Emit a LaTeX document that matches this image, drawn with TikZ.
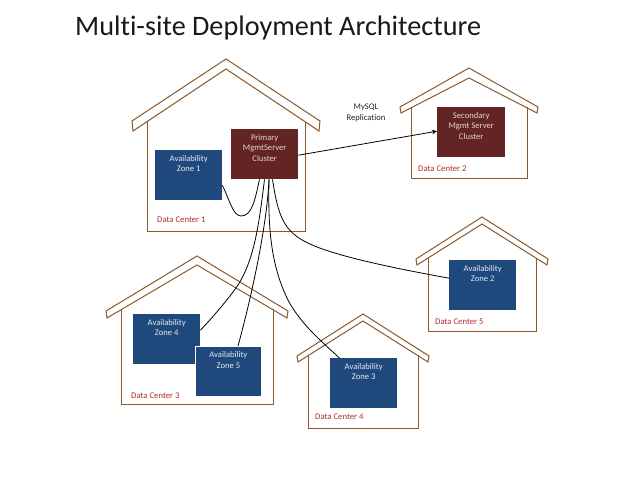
\documentclass[tikz,border=0pt]{standalone}
\usepackage{fontspec}
\usetikzlibrary{arrows.meta}
\setmainfont[RawFeature={-liga}]{Carlito}
\definecolor{zoneblue}{HTML}{1F497D}
\definecolor{mgmtred}{HTML}{632523}
\definecolor{houseline}{HTML}{8A5A2A}
\definecolor{dclabel}{HTML}{B02A30}
\tikzset{
  house/.style={draw=houseline,line width=1pt,line join=miter},
  zone/.style={fill=zoneblue,text=white!88!zoneblue,inner sep=0pt,anchor=north west,font=\fontsize{8.6}{10.7}\selectfont},
  mgmt/.style={zone,fill=mgmtred,text=white!80!mgmtred},
  dc/.style={text=dclabel,font=\fontsize{8.7}{10}\selectfont,anchor=west,inner sep=0pt},
  link/.style={draw=black,line width=0.8pt},
  toplabel/.style={text=black!85,font=\fontsize{8.6}{10.7}\selectfont,align=center,inner sep=0pt}
}
\newcommand{\housepath}[9]{%
  \draw[house] (#1-#4,#5) -- (#1,#2) -- (#1+#4,#5) -- (#1+#4-1,#6) -- (#1,#3) -- (#1-#4+1,#6) -- cycle;
  \draw[house] (#1-#7,#9) -- (#1-#7,#8) -- (#1+#7,#8) -- (#1+#7,#9);
}
\newcommand{\boxtext}[2]{\parbox[t][50pt][t]{#1}{\centering\rule{0pt}{11pt}#2}}
\begin{document}
\begin{tikzpicture}[x=1pt,y=-1pt]
\useasboundingbox (0,0) rectangle (638,479);
\node[anchor=base west,inner sep=0pt,font=\fontsize{28.2}{32}\selectfont,text=black!90] (title) at (75,35) {Multi-site Deployment Architecture};
% houses
\housepath{226}{59}{69}{94}{121}{131}{79}{231}{122}
\housepath{469}{68}{78}{69}{107}{113}{58}{178}{107}
\housepath{482}{217}{224}{66}{259}{265}{54}{331}{258}
\housepath{363}{314}{321}{66}{356}{362}{55}{428}{355}
\housepath{197}{256}{265}{91}{311}{318}{76}{404}{309}
% boxes
\node[zone] (az1) at (155,150) {\boxtext{67pt}{Availability\\Zone 1}};
\node[mgmt] (prim) at (231,129) {\boxtext{67pt}{Primary\\MgmtServer\\Cluster}};
\node[mgmt] (sec) at (437,107) {\boxtext{68pt}{Secondary\\Mgmt Server\\Cluster}};
\node[zone] (az2) at (449,260) {\boxtext{67pt}{Availability\\Zone 2}};
\node[zone] (az3) at (330,358) {\boxtext{67pt}{Availability\\Zone 3}};
\node[zone] (az4) at (133,314) {\boxtext{67pt}{Availability\\Zone 4}};
\node[zone,draw=white,line width=0.8pt] (az5) at (195,346) {\boxtext{66pt}{Availability\\Zone 5}};
% labels
\node[dc] (l1) at (157,219.5) {Data Center 1};
\node[dc] (l2) at (418,168.5) {Data Center 2};
\node[dc] (l3) at (131,395.5) {Data Center 3};
\node[dc] (l4) at (315,417) {Data Center 4};
\node[dc] (l5) at (435,322) {Data Center 5};
\node[toplabel] (mysql) at (366,113) {MySQL\\Replication};
% connector ends on the boxes
\coordinate (pa) at ([xshift=28.5pt]prim.south west);
\coordinate (pb) at ([xshift=33.5pt]prim.south west);
\coordinate (pc) at ([xshift=38pt]prim.south west);
\coordinate (pd) at ([xshift=41.5pt]prim.south west);
\coordinate (pe) at ([yshift=-1pt]prim.east);
\coordinate (z1) at ([yshift=15pt]az1.south east);
\coordinate (z2) at ([yshift=7pt]az2.west);
\coordinate (z3) at ([xshift=9.5pt]az3.north west);
\coordinate (z4) at ([yshift=9pt]az4.east);
\coordinate (z5) at ([xshift=43pt]az5.north west);
\coordinate (z0) at ([yshift=1pt]sec.west);
\draw[link] (z1) .. controls +(7,14) and (233,216) .. (241,216) .. controls (252,216) and (255,200) .. (pa);
\draw[link] (pb) .. controls (259,225) and (254,262) .. (236,288) .. controls (225,303) and (212,318) .. (z4);
\draw[link] (pc) .. controls (267,225) and (252,295) .. (z5);
\draw[link] (pc) .. controls (268,225) and (270,265) .. (289,302) .. controls (302,325) and (322,342) .. (z3);
\draw[link] (pd) .. controls (278,215) and (283,232) .. (310,244) .. controls (340,258) and (410,271) .. (z2);
\draw[link,-{Stealth[length=5pt,width=4.5pt]}] (pe) -- (z0);
\end{tikzpicture}
\end{document}
